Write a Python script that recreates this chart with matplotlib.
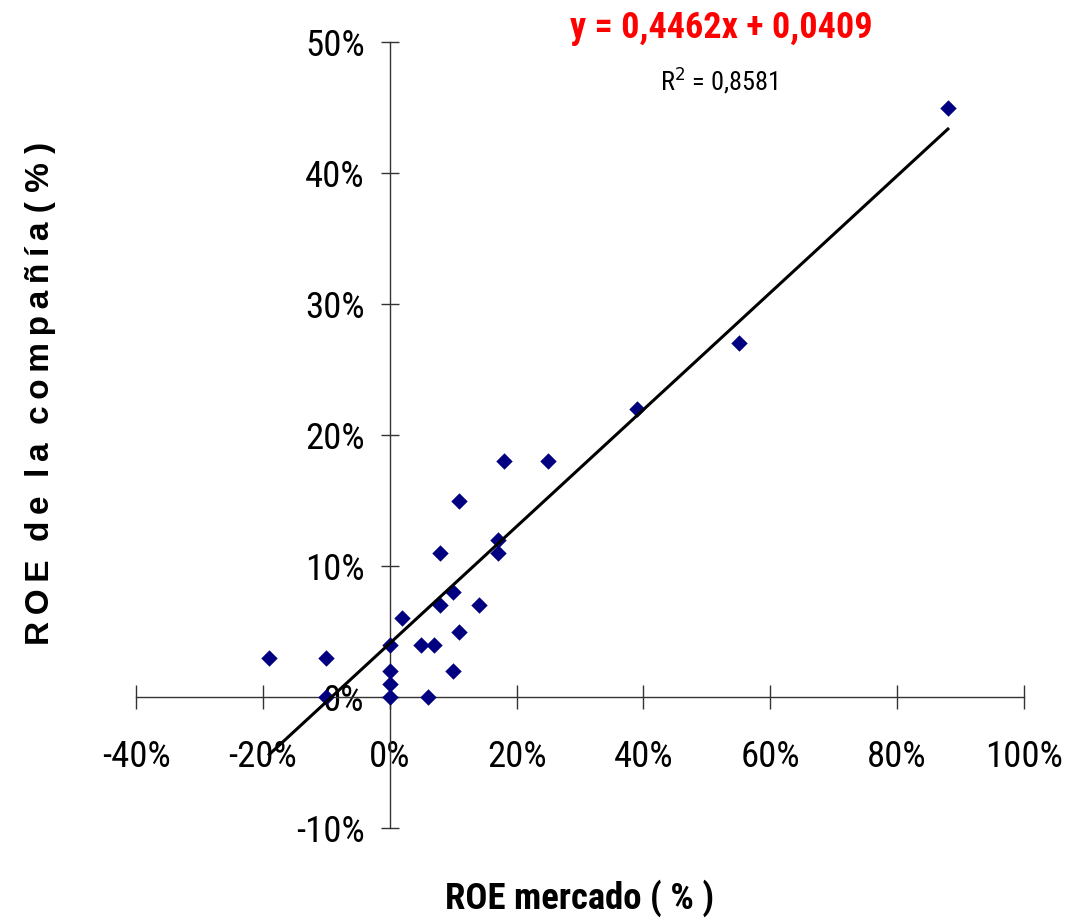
import numpy as np
import matplotlib
matplotlib.use('Agg')
import matplotlib.pyplot as plt
import matplotlib.font_manager as fm
from matplotlib.ticker import FuncFormatter

# ROE data (fractions)
roe_mercado = [-0.19, -0.10, -0.10, 0.00, 0.00, 0.00, 0.00, 0.02, 0.05, 0.07, 0.06,
               0.08, 0.08, 0.10, 0.10, 0.11, 0.11, 0.14, 0.17, 0.17, 0.18, 0.25,
               0.39, 0.55, 0.88]
roe_compania = [0.03, 0.03, 0.00, 0.04, 0.02, 0.01, 0.00, 0.06, 0.04, 0.04, 0.00,
                0.11, 0.07, 0.08, 0.02, 0.15, 0.05, 0.07, 0.12, 0.11, 0.18, 0.18,
                0.22, 0.27, 0.45]
slope = 0.4462
intercept = 0.0409
r2_text = '0,8581'
x_ticks = [-0.4, -0.2, 0.0, 0.2, 0.4, 0.6, 0.8, 1.0]
y_ticks = [-0.1, 0.0, 0.1, 0.2, 0.3, 0.4, 0.5]

# pick a narrow (Arial Narrow like) font if one is installed
avail = {f.name for f in fm.fontManager.ttflist}
prefs = ['Liberation Sans Narrow', 'Arial Narrow', 'Arimo Narrow', 'Roboto Condensed',
         'Archivo Narrow', 'PT Sans Narrow', 'Open Sans Condensed', 'Sofia Sans Condensed',
         'Sofia Sans Semi Condensed']
narrow = next((n for n in prefs if n in avail), 'DejaVu Sans')
plt.rcParams['font.family'] = [narrow, 'DejaVu Sans']
plt.rcParams['font.stretch'] = 'condensed'

W, H = 1070, 922
fig = plt.figure(figsize=(W / 100, H / 100), dpi=100)
ax = fig.add_axes([136 / W, 1 - 828 / H, (1024 - 136) / W, (828 - 42) / H])
ax.set_xlim(-0.4, 1.0)
ax.set_ylim(-0.1, 0.5)

ax.spines['left'].set_position(('data', 0))
ax.spines['bottom'].set_position(('data', 0))
ax.spines['top'].set_visible(False)
ax.spines['right'].set_visible(False)
for s in ('left', 'bottom'):
    ax.spines[s].set_linewidth(1.0)
    ax.spines[s].set_color('#333333')

ax.set_xticks(x_ticks)
ax.set_yticks(y_ticks)
pct = FuncFormatter(lambda v, p: '%d%%' % round(v * 100))
ax.xaxis.set_major_formatter(pct)
ax.yaxis.set_major_formatter(pct)
ax.tick_params(axis='x', direction='inout', length=17, width=1.0, pad=22,
               labelsize=26.5, color='#333333')
ax.tick_params(axis='y', direction='inout', length=13, width=1.0, pad=11.5,
               labelsize=26.5, color='#333333')

ax.scatter(roe_mercado, roe_compania, marker='D', s=70, color='#000080', zorder=3,
           linewidths=0)

xs = np.array([min(roe_mercado), max(roe_mercado)])
ax.plot(xs, slope * xs + intercept, color='black', lw=2.2, zorder=4)

fig.text(721 / W, 1 - 28 / H, 'y = 0,4462x + 0,0409', color='red', fontsize=26,
         fontweight='bold', ha='center', va='center')
fig.text(719 / W, 1 - 80 / H, r'R$^2$ = ' + r2_text, fontsize=19, ha='center', va='center')

fig.text(580 / W, 1 - 898 / H, 'ROE mercado ( % )', fontsize=26.5, fontweight='bold',
         ha='center', va='center')
ylab = 'R\u2009O\u2009E  d\u2009e  l\u2009a  c\u2009o\u2009m\u2009p\u2009a\u2009ñ\u2009í\u2009a ( % )'
fig.text(41 / W, 1 - 393 / H, ylab, fontsize=24, fontweight='bold',
         family=['Liberation Sans', 'DejaVu Sans'], fontstretch='normal',
         rotation=90, ha='center', va='center')

fig.savefig('out.png', dpi=100)
